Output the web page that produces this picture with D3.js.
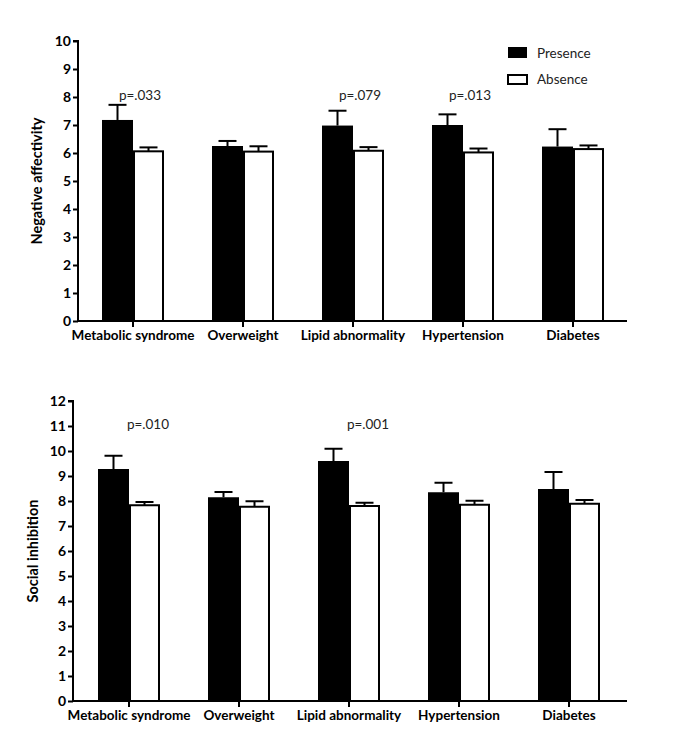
<!DOCTYPE html>
<html><head><meta charset="utf-8">
<script src="https://cdn.jsdelivr.net/npm/d3@7"></script>
<style>
body{margin:0;background:#fff;}
text{font-family:Lato,"Open Sans",sans-serif;}
</style></head>
<body><svg id="c" width="685" height="750"></svg>
<script>
const categories = ["Metabolic syndrome","Overweight","Lipid abnormality","Hypertension","Diabetes"];
const seriesNames = ["Presence","Absence"];
// Negative affectivity
const naPresence = [7.18, 6.25, 6.98, 7.00, 6.23];
const naPresenceErr = [0.54, 0.18, 0.53, 0.38, 0.62];
const naAbsence = [6.06, 6.05, 6.08, 6.02, 6.14];
const naAbsenceErr = [0.14, 0.19, 0.13, 0.14, 0.13];
const naPvalues = [{cat:"Metabolic syndrome", text:"p=.033"},{cat:"Lipid abnormality", text:"p=.079"},{cat:"Hypertension", text:"p=.013"}];
const naTicks = [0,1,2,3,4,5,6,7,8,9,10];
// Social inhibition
const siPresence = [9.28, 8.15, 9.60, 8.35, 8.48];
const siPresenceErr = [0.53, 0.21, 0.49, 0.38, 0.68];
const siAbsence = [7.83, 7.77, 7.80, 7.85, 7.89];
const siAbsenceErr = [0.13, 0.22, 0.13, 0.16, 0.15];
const siPvalues = [{cat:"Metabolic syndrome", text:"p=.010"},{cat:"Lipid abnormality", text:"p=.001"}];
const siTicks = [0,1,2,3,4,5,6,7,8,9,10,11,12];

const svg = d3.select("#c");

function panel(opt){
  const g = svg.append("g");
  const y = d3.scaleLinear().domain([0, opt.ymax]).range([opt.y0, opt.y1]);
  const x = d3.scaleBand().domain(categories).range([opt.x0, opt.x0+550]).paddingInner(48/110).paddingOuter(24/110);
  const xs = d3.scaleBand().domain(seriesNames).range([0, x.bandwidth()]);
  const rows = categories.map((c,i)=>[
    {cat:c, s:"Presence", v:opt.pres[i], e:opt.presErr[i]},
    {cat:c, s:"Absence", v:opt.abs[i], e:opt.absErr[i]}
  ]).flat();
  // error bars (upward)
  const eb = g.append("g").attr("stroke","#000").attr("stroke-width",2);
  rows.forEach(d=>{
    const cx = x(d.cat)+xs(d.s)+xs.bandwidth()/2;
    eb.append("line").attr("x1",cx).attr("x2",cx).attr("y1",y(d.v)).attr("y2",y(d.v+d.e));
    eb.append("line").attr("x1",cx-9).attr("x2",cx+9).attr("y1",y(d.v+d.e)).attr("y2",y(d.v+d.e));
  });
  g.selectAll("rect.bar").data(rows).enter().append("rect")
    .attr("x",d=>x(d.cat)+xs(d.s)+(d.s==="Absence"?1:0))
    .attr("y",d=>y(d.v))
    .attr("width",d=>xs.bandwidth()-(d.s==="Absence"?2:0))
    .attr("height",d=>y(0)-y(d.v))
    .attr("fill",d=>d.s==="Presence"?"#000":"#fff")
    .attr("stroke","#000").attr("stroke-width",d=>d.s==="Presence"?0:2);
  // y axis
  const ya = g.append("g").attr("transform",`translate(${opt.axisX},0)`)
    .call(d3.axisLeft(y).tickValues(opt.ticks).tickFormat(d3.format("d")).tickSize(5).tickPadding(2));
  ya.select(".domain").attr("stroke-width",2).attr("d",`M-5,${opt.y1}H0V${opt.y0}`);
  ya.selectAll(".tick line").attr("stroke-width",2);
  ya.selectAll("text").attr("font-size",14).attr("font-weight","bold").attr("fill","#000").attr("font-family","Lato");
  // x axis
  const xa = g.append("g").attr("transform",`translate(0,${opt.y0})`)
    .call(d3.axisBottom(x).tickSize(6).tickPadding(3));
  xa.select(".domain").attr("stroke-width",2).attr("d",`M${opt.axisX},0H627`);
  xa.selectAll(".tick line").attr("stroke-width",2);
  xa.selectAll("text").attr("font-size",13.5).attr("font-weight","bold").attr("fill","#000").attr("font-family","Lato");
  // y title
  g.append("text").attr("transform",`translate(${opt.titleX},${(opt.y0+opt.y1)/2}) rotate(-90)`)
    .attr("text-anchor","middle").attr("font-size",14.5).attr("font-weight","bold").text(opt.title);
  // p-values
  g.selectAll("text.p").data(opt.pv).enter().append("text")
    .attr("x",d=>x(d.cat)+x.bandwidth()/2+opt.pdx).attr("y",opt.py)
    .attr("text-anchor","middle").attr("font-size",13.5).attr("fill","#222").text(d=>d.text);
  return g;
}

panel({ymax:10, y0:321, y1:41, x0:78, axisX:78, ticks:naTicks, pres:naPresence, presErr:naPresenceErr,
  abs:naAbsence, absErr:naAbsenceErr, title:"Negative affectivity", titleX:42, pv:naPvalues, pdx:7, py:100});
panel({ymax:12, y0:701, y1:401, x0:74, axisX:73, ticks:siTicks, pres:siPresence, presErr:siPresenceErr,
  abs:siAbsence, absErr:siAbsenceErr, title:"Social inhibition", titleX:38, pv:siPvalues, pdx:19, py:429});

// legend
const leg = svg.append("g");
seriesNames.forEach((s,i)=>{
  leg.append("rect").attr("x",508).attr("y",i ? 75 : 47).attr("width",19).attr("height",i?9:11)
    .attr("fill",i?"#fff":"#000").attr("stroke","#000").attr("stroke-width",i?2:0);
  leg.append("text").attr("x",537).attr("y",58+i*26).attr("font-size",13.5).attr("fill","#222").text(s);
});
</script></body></html>
